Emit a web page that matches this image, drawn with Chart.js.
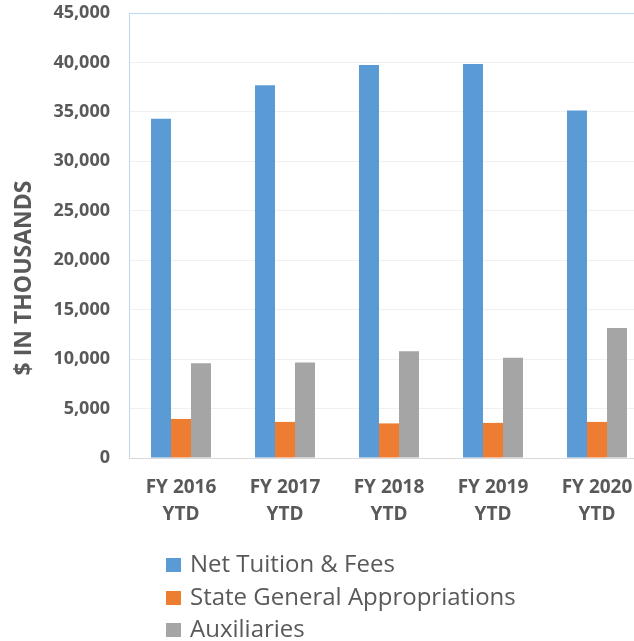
<!DOCTYPE html>
<html><head><meta charset="utf-8">
<script src="https://cdn.jsdelivr.net/npm/chart.js@4/dist/chart.umd.min.js"></script>
<style>
html,body{margin:0;padding:0;background:#fff;overflow:hidden;width:634px;height:641px;}
#wrap{position:relative;width:660px;height:641px;}
</style></head><body>
<div id="wrap"><canvas id="c"></canvas></div>
<script>
const categories = [['FY 2016','YTD'],['FY 2017','YTD'],['FY 2018','YTD'],['FY 2019','YTD'],['FY 2020','YTD']];
const seriesNames = ['Net Tuition & Fees','State General Appropriations','Auxiliaries'];
const netTuition = [34300, 37700, 39750, 39850, 35150];
const stateApprop = [3950, 3650, 3500, 3550, 3650];
const auxiliaries = [9580, 9650, 10800, 10150, 13150];
const seriesColors = ['#5B9BD5','#ED7D31','#A5A5A5'];
const yTitle = '$ IN THOUSANDS';
const yMin = 0, yMax = 45000, yStep = 5000;

const textColor = '#595959';

const extrasPlugin = {
  id: 'extras',
  afterDraw(chart) {
    const ctx = chart.ctx;
    ctx.save();
    // y axis title
    ctx.translate(31, 278);
    ctx.rotate(-Math.PI/2);
    ctx.font = 'bold 23px "Open Sans"';
    ctx.fillStyle = textColor;
    ctx.textAlign = 'center';
    ctx.textBaseline = 'alphabetic';
    ctx.fillText(yTitle, 0, 0);
    ctx.restore();
    // legend
    ctx.save();
    ctx.font = '24px "Open Sans"';
    ctx.textAlign = 'left';
    ctx.textBaseline = 'alphabetic';
    const baselines = [572, 605, 637];
    chart.data.datasets.forEach((ds, i) => {
      const b = baselines[i];
      ctx.fillStyle = ds.backgroundColor;
      ctx.fillRect(166, b - 14, 15, 14);
      ctx.fillStyle = textColor;
      ctx.fillText(ds.label, 190, b);
    });
    ctx.restore();
  }
};

new Chart(document.getElementById('c'), {
  type: 'bar',
  data: {
    labels: categories,
    datasets: [
      {label: seriesNames[0], data: netTuition, backgroundColor: seriesColors[0]},
      {label: seriesNames[1], data: stateApprop, backgroundColor: seriesColors[1]},
      {label: seriesNames[2], data: auxiliaries, backgroundColor: seriesColors[2]}
    ]
  },
  options: {
    responsive: true,
    maintainAspectRatio: false,
    animation: false,
    devicePixelRatio: 1,
    layout: {padding: {left: 0, right: 11, top: 13, bottom: 0}},
    datasets: {bar: {categoryPercentage: 60/104, barPercentage: 1.0, borderWidth: 0}},
    plugins: {legend: {display: false}, tooltip: {enabled: false}},
    scales: {
      x: {
        grid: {display: false, drawTicks: false},
        border: {display: true, color: '#D9D9D9', width: 1},
        ticks: {color: textColor, font: {family: '"Open Sans"', size: 19, weight: 'bold', lineHeight: 1.42}, padding: 16, maxRotation: 0, autoSkip: false},
        afterFit(scale) { scale.height = 183; scale.paddingLeft = 0; scale.paddingRight = 0; }
      },
      y: {
        min: yMin, max: yMax,
        grid: {drawTicks: false, color: (c) => c.tick && c.tick.value === yMax ? '#BDD7EE' : '#F0F0F0', lineWidth: 1},
        border: {display: true, color: '#BDD7EE', width: 1},
        ticks: {stepSize: yStep, color: textColor, padding: 19, font: {family: '"Open Sans"', size: 18, weight: 'bold'},
          callback: (v) => v.toLocaleString('en-US')},
        afterFit(scale) { scale.width = 129; scale.paddingTop = 0; scale.paddingBottom = 0; }
      }
    }
  },
  plugins: [extrasPlugin]
});
</script>
</body></html>
